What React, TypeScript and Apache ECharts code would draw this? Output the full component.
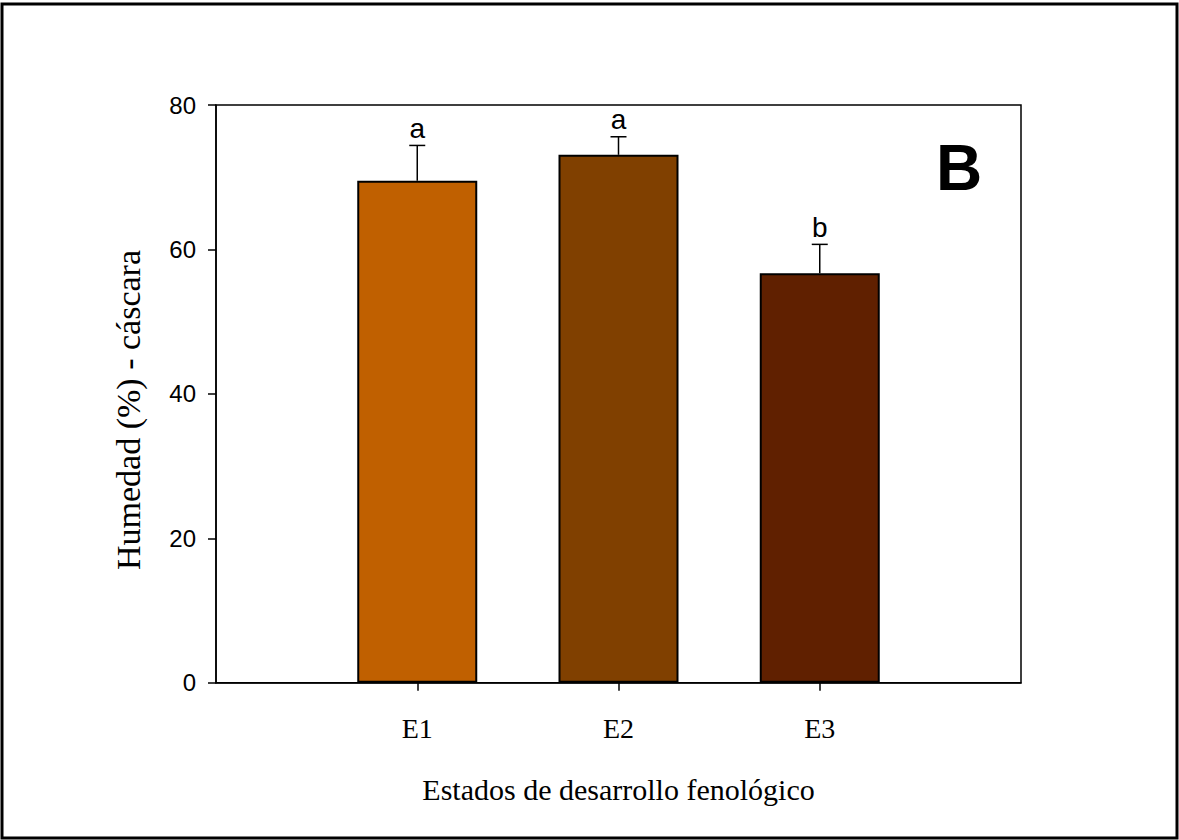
import React, { useEffect, useRef } from "react";
import * as echarts from "echarts";

const categories = ["E1", "E2", "E3"];
const means = [69.5, 73.1, 56.7];
const errors = [4.9, 2.5, 4.0];
const letters = ["a", "a", "b"];
const barColors = ["#C06000", "#804000", "#602000"];
const yMin = 0;
const yMax = 80;
const yStep = 20;

export default function App() {
  const ref = useRef<HTMLDivElement>(null);
  useEffect(() => {
    if (!ref.current) return;
    const chart = echarts.init(ref.current, null, { renderer: "svg" });
    const axisCats = ["", ...categories, ""];
    const barData: any[] = ["-", ...means.map((v, i) => ({ value: v, itemStyle: { color: barColors[i] } })), "-"];
    const errData = categories.map((c, i) => [i + 1, means[i], errors[i], i]);
    const option: any = {
      animation: false,
      backgroundColor: "#fff",
      grid: {
        left: 216,
        right: 158,
        top: 105,
        bottom: 157.3,
        show: true,
        borderColor: "#000",
        borderWidth: 1.5,
        backgroundColor: "transparent",
      },
      xAxis: {
        type: "category",
        data: axisCats,
        boundaryGap: false,
        axisLine: { lineStyle: { color: "#000", width: 1.5 } },
        axisTick: {
          length: 8,
          lineStyle: { color: "#000", width: 1.5 },
          interval: (i: number, v: string) => v !== "",
        },
        axisLabel: {
          interval: (i: number, v: string) => v !== "",
          margin: 32,
          fontSize: 28,
          fontFamily: "Liberation Serif",
          color: "#000",
        },
        name: "Estados de desarrollo fenológico",
        nameLocation: "middle",
        nameGap: 92,
        nameTextStyle: { fontSize: 30, fontFamily: "Liberation Serif", color: "#000" },
        splitLine: { show: false },
      },
      yAxis: {
        type: "value",
        min: yMin,
        max: yMax,
        interval: yStep,
        axisLine: { show: true, lineStyle: { color: "#000", width: 1.5 } },
        axisTick: { show: true, length: 8, lineStyle: { color: "#000", width: 1.5 } },
        axisLabel: { margin: 20, fontSize: 24, fontFamily: "Liberation Sans", color: "#000" },
        splitLine: { show: false },
      },
      series: [
        {
          type: "bar",
          data: barData,
          barWidth: 120,
          itemStyle: { borderColor: "#000", borderWidth: 2 },
          z: 2,
        },
        {
          type: "custom",
          data: errData,
          z: 3,
          renderItem: (params: any, api: any) => {
            const x = api.value(0);
            const m = api.value(1);
            const e = api.value(2);
            const idx = api.value(3);
            const base = api.coord([x, m]);
            const top = api.coord([x, m + e]);
            return {
              type: "group",
              children: [
                {
                  type: "line",
                  shape: { x1: base[0], y1: base[1], x2: top[0], y2: top[1] },
                  style: { stroke: "#000", lineWidth: 1.5 },
                },
                {
                  type: "line",
                  shape: { x1: top[0] - 8, y1: top[1], x2: top[0] + 8, y2: top[1] },
                  style: { stroke: "#000", lineWidth: 1.5 },
                },
                {
                  type: "text",
                  x: top[0],
                  y: top[1] - 3,
                  style: {
                    text: letters[idx],
                    fontSize: 28,
                    fontFamily: "Liberation Sans",
                    fill: "#000",
                    align: "center",
                    verticalAlign: "bottom",
                  },
                },
              ],
            };
          },
        },
      ],
      graphic: [
        {
          type: "rect",
          shape: { x: 2, y: 4, width: 1175, height: 834 },
          style: { fill: "none", stroke: "#000", lineWidth: 3 },
          silent: true,
        },
        {
          type: "text",
          x: 128.5,
          y: 410,
          rotation: Math.PI / 2,
          style: {
            text: "Humedad (%) - cáscara",
            fontSize: 34,
            fontFamily: "Liberation Serif",
            fill: "#000",
            align: "center",
            verticalAlign: "middle",
          },
        },
        {
          type: "text",
          x: 959,
          y: 168,
          style: {
            text: "B",
            fontSize: 64,
            fontWeight: "bold",
            fontFamily: "Liberation Sans",
            fill: "#000",
            align: "center",
            verticalAlign: "middle",
          },
        },
      ],
    };
    chart.setOption(option);
    return () => chart.dispose();
  }, []);
  return (
    <div
      ref={ref}
      style={{ position: "absolute", left: 0, top: 0, width: 1179, height: 840 }}
    />
  );
}
